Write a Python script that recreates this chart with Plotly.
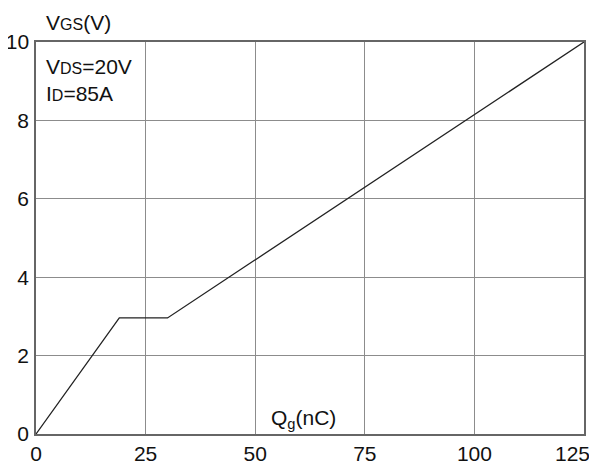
import plotly.graph_objects as go

qg = [0, 19, 30, 125]
vgs = [0, 2.96, 2.96, 10]
x_ticks = [0, 25, 50, 75, 100, 125]
y_ticks = [0, 2, 4, 6, 8, 10]

FONT = "Liberation Sans, Arial, sans-serif"

fig = go.Figure()
fig.add_trace(go.Scatter(x=qg, y=vgs, mode="lines",
                         line=dict(color="#222222", width=1.3),
                         showlegend=False, hoverinfo="skip"))

axis_common = dict(showgrid=True, gridcolor="#8c8c8c", gridwidth=1.4,
                   showline=True, linecolor="#666666", linewidth=1.5, mirror=True,
                   zeroline=False, ticks="", automargin=False,
                   tickfont=dict(family=FONT, size=21, color="#111111"))

# the last x label is drawn as an annotation, nudged left so it stays inside the window
x_text = [str(v) for v in x_ticks]
x_text[-1] = ""

fig.update_xaxes(range=[0, 125], tickvals=x_ticks, ticktext=x_text,
                 ticklabelstandoff=0, **axis_common)
fig.update_yaxes(range=[0, 10], tickvals=y_ticks, ticktext=[str(v) for v in y_ticks],
                 ticklabelstandoff=1, **axis_common)

ann_font = dict(family=FONT, size=21, color="#111111")
fig.add_annotation(xref="x", yref="paper", x=x_ticks[-1], y=0.0, xanchor="center", yanchor="top",
                   xshift=-12, yshift=-6, showarrow=False, font=ann_font,
                   text=str(x_ticks[-1]))

SMALL = 'font-size:16px'
fig.add_annotation(xref="paper", yref="paper", x=0.0, y=1.0, xanchor="left", yanchor="bottom",
                   yshift=6, xshift=8, showarrow=False, font=ann_font,
                   text=f'V<span style="{SMALL}">GS</span>(V)')
fig.add_annotation(xref="paper", yref="paper", x=0.0, y=1.0, xanchor="left", yanchor="top",
                   yshift=-11, xshift=8, showarrow=False, font=ann_font,
                   text=f'V<span style="{SMALL}">DS</span>=20V')
fig.add_annotation(xref="paper", yref="paper", x=0.0, y=1.0, xanchor="left", yanchor="top",
                   yshift=-38, xshift=8, showarrow=False, font=ann_font,
                   text=f'I<span style="{SMALL}">D</span>=85A')
fig.add_annotation(xref="x", yref="paper", x=61, y=0.0, xanchor="center", yanchor="bottom",
                   yshift=0, showarrow=False, font=ann_font,
                   text='Q<sub>g</sub>(nC)')

# page body adds an 8px margin, so the figure is sized to fill the rest of the window
fig.update_layout(width=589, height=461, margin=dict(l=28, r=13, t=34, b=35),
                  paper_bgcolor="white", plot_bgcolor="white",
                  font=dict(family=FONT))

fig.write_html("out.html")
